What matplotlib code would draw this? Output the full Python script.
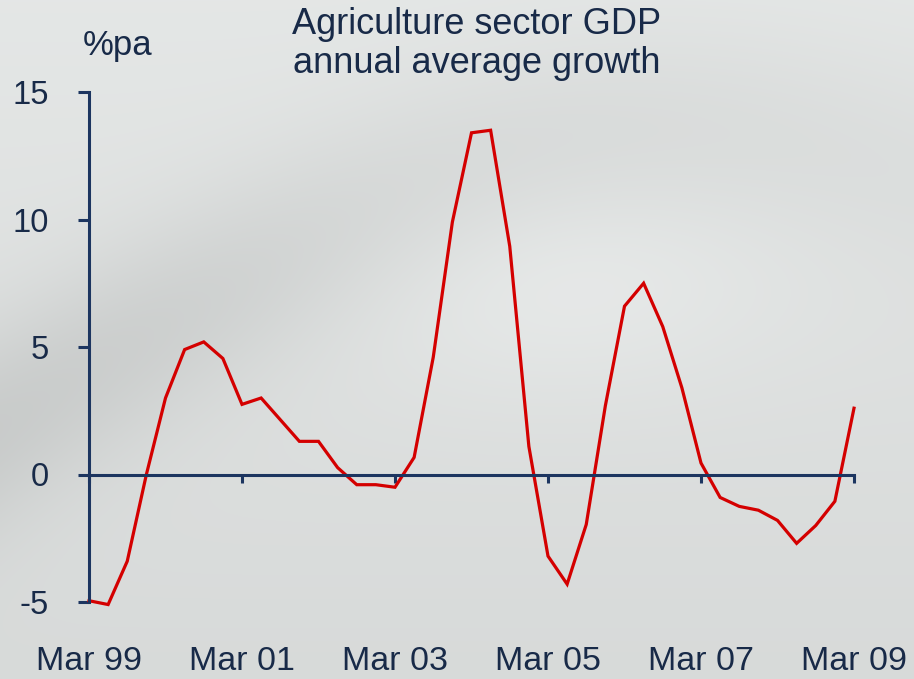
import numpy as np
import matplotlib
matplotlib.use("Agg")
import matplotlib.pyplot as plt

plt.rcParams['font.family'] = ['Liberation Sans', 'DejaVu Sans']

# Data: quarterly, Mar 99 .. Mar 09
growth = [-4.95, -5.1, -3.4, 0.0, 3.0, 4.9, 5.2, 4.55, 2.75, 3.0,
          2.15, 1.3, 1.3, 0.27, -0.4, -0.4, -0.5, 0.67, 4.6, 9.9,
          13.4, 13.5, 8.95, 1.1, -3.2, -4.3, -1.96, 2.7, 6.6, 7.5,
          5.8, 3.4, 0.45, -0.9, -1.25, -1.4, -1.8, -2.7, -2.0, -1.05,
          2.6]
tick_labels = ["Mar 99", "Mar 01", "Mar 03", "Mar 05", "Mar 07", "Mar 09"]
y_ticks = [-5, 0, 5, 10, 15]

title = "Agriculture sector GDP\nannual average growth"
unit = "%pa"

navy = "#1c3560"
text_c = "#182a48"
red = "#d40000"

fig = plt.figure(figsize=(9.14, 6.79), dpi=100)

# background gradient
bg = fig.add_axes([0, 0, 1, 1], zorder=-10)
h, w = 340, 457
yy, xx = np.mgrid[0:h, 0:w]
xn = xx / w
yn = yy / h
base = 0.905 - 0.05 * yn
# darker curved swoosh
swoosh = np.exp(-((yn - (0.62 - 0.42 * np.sin(xn * 2.0))) ** 2) / 0.025) * 0.075 * (1 - xn * 0.7)
glow = np.exp(-(((xn - 0.6) ** 2) / 0.06 + ((yn - 0.4) ** 2) / 0.03)) * 0.035
val = base - swoosh + glow
img = np.dstack([val - 0.01, val, val - 0.003])
bg.imshow(np.clip(img, 0, 1), aspect='auto', extent=[0, 1, 0, 1], interpolation='bilinear')
bg.axis('off')

ax = fig.add_axes([89 / 914, 77 / 679, (854 - 89) / 914, (602 - 92) / 679])
ax.patch.set_alpha(0)
x = np.arange(len(growth))
ax.plot(x, growth, color=red, lw=2.3, clip_on=False, solid_joinstyle='miter')

ax.set_xlim(0, len(growth) - 1)
ax.set_ylim(-5, 15)

for s in ['top', 'right']:
    ax.spines[s].set_visible(False)
ax.spines['left'].set_color(navy)
ax.spines['left'].set_linewidth(2.2)
ax.spines['bottom'].set_position(('data', 0))
ax.spines['bottom'].set_color(navy)
ax.spines['bottom'].set_linewidth(2.2)

xt = np.arange(0, len(growth), 8)
ax.set_xticks(xt)
ax.set_xticklabels([])
ax.tick_params(axis='x', direction='out', length=6, width=2.2, color=navy)
ax.set_yticks(y_ticks)
ax.set_yticklabels([str(v) for v in y_ticks], fontsize=23.5, color=text_c)
ax.tick_params(axis='y', direction='out', length=8, width=2.2, color=navy, pad=21)

sec = ax.secondary_xaxis(0.0)
sec.set_xticks(xt)
sec.set_xticklabels(tick_labels, fontsize=24.5, color=text_c)
sec.tick_params(length=0, pad=32)
sec.spines['bottom'].set_visible(False)

fig.text(477 / 914, 1 - 44 / 679, title, ha='center', va='center',
         fontsize=26, color=text_c, linespacing=1.17)
fig.text(118 / 914, 1 - 46 / 679, unit, ha='center', va='center',
         fontsize=25, color=text_c)

fig.savefig("out.png", dpi=100)
